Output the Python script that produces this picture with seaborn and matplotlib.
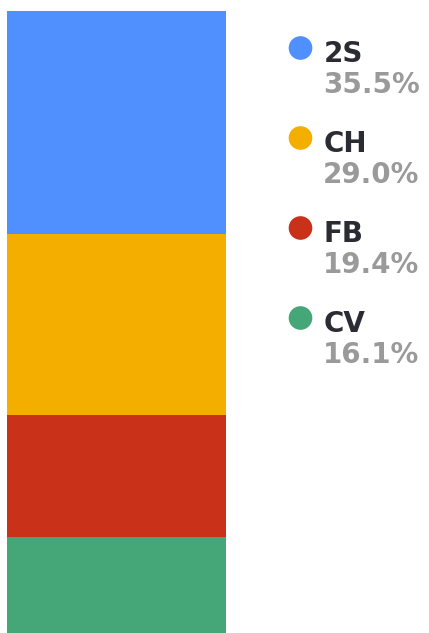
import matplotlib
matplotlib.use("Agg")
import matplotlib.pyplot as plt
import seaborn as sns
import pandas as pd
import numpy as np

sns.set_style("white")
plt.rcParams['font.family'] = ['DejaVu Sans']

categories = ['2S', 'CH', 'FB', 'CV']
shares = [35.5, 29.0, 19.4, 16.1]
colors = ['#4F8FFE', '#F4AE00', '#C93218', '#45A677']

W, H = 429, 633
fig = plt.figure(figsize=(W / 100, H / 100), dpi=100)
# bar runs slightly past the bottom edge of the picture
ax = fig.add_axes([7 / W, -5 / H, 219 / W, 627 / H])

# stacked bar: draw cumulative heights from the top segment down
cum = np.cumsum(shares[::-1])[::-1]
for cat, top, col in zip(categories, cum, colors):
    df = pd.DataFrame({'x': ['all'], 'y': [top]})
    sns.barplot(data=df, x='x', y='y', color=col, width=1.0, ax=ax,
                saturation=1, edgecolor='none', linewidth=0)

ax.set_xlim(-0.5, 0.5)
ax.set_ylim(0, sum(shares))
ax.axis('off')

# legend, in pixel coordinates
lg = fig.add_axes([0, 0, 1, 1])
lg.set_xlim(0, W)
lg.set_ylim(H, 0)
lg.axis('off')
leg = pd.DataFrame({'cat': categories, 'x': [300.5] * 4,
                    'y': [48 + i * 90 for i in range(4)]})
sns.scatterplot(data=leg, x='x', y='y', hue='cat', palette=colors,
                s=290, linewidth=0, legend=False, ax=lg)
for cat, val, yc in zip(categories, shares, leg['y']):
    lg.text(324, yc + 6, cat, fontsize=20, fontweight='bold',
            color='#2B2B33', ha='left', va='center')
    lg.text(323, yc + 37, f'{val:.1f}%', fontsize=20,
            fontweight='bold', color='#9A9A9A', ha='left', va='center')

fig.savefig('out.png', dpi=100)
